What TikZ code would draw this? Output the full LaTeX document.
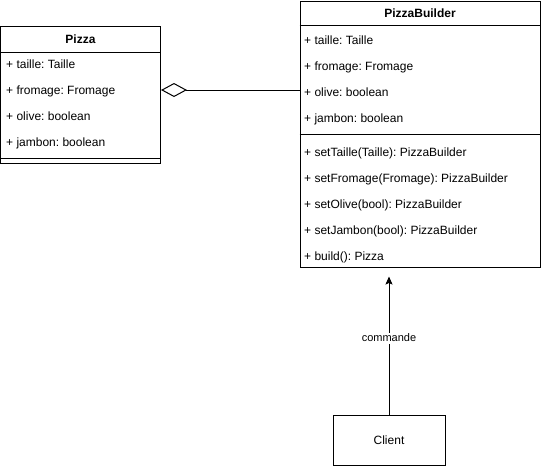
\documentclass[tikz,border=0pt]{standalone}
\usepackage{fontspec}
\setmainfont{Liberation Sans}
\usetikzlibrary{arrows.meta, positioning, calc}
\frenchspacing

\begin{document}
\begin{tikzpicture}[x=1pt, y=-1pt,
    font=\fontsize{12}{14}\selectfont,
    classbox/.style={rectangle, draw, line width=1pt, inner sep=0pt},
    classname/.style={font=\fontsize{12}{14}\selectfont\bfseries, anchor=base},
    row/.style={anchor=base west, inner sep=0pt},
    sep/.style={line width=1pt},
    arr/.style={-{Stealth[length=8pt, width=7pt, inset=1.5pt]}, line width=1pt, shorten >=9pt},
    agg/.style={{Diamond[open, length=26pt, width=14pt]}-, line width=1pt}
  ]
    \useasboundingbox (0,0) rectangle (541,466);

    % Pizza
    \node[classbox, minimum width=160pt, minimum height=137pt] (pizza) at (80.5,94.5) {};
    \node[classname] (pizzaname) at (80.5,43.5) {Pizza};
    \draw[sep] (pizza.west |- 0,52) -- (pizza.east |- 0,52);
    \draw[sep] (pizza.west |- 0,158) -- (pizza.east |- 0,158);
    \node[row] (p1) at (6,68.5) {+ taille: Taille};
    \node[row] (p2) at (6,94.5) {+ fromage: Fromage};
    \node[row] (p3) at (6,120.5) {+ olive: boolean};
    \node[row] (p4) at (6,146.5) {+ jambon: boolean};

    % PizzaBuilder
    \node[classbox, minimum width=240pt, minimum height=266pt] (builder) at (420,134) {};
    \node[classname] (buildername) at (420,17.5) {PizzaBuilder};
    \draw[sep] (builder.west |- 0,25) -- (builder.east |- 0,25);
    \draw[sep] (builder.west |- 0,134) -- (builder.east |- 0,134);
    \node[row] (b1) at (304,44.5) {+ taille: Taille};
    \node[row] (b2) at (304,70.5) {+ fromage: Fromage};
    \node[row] (b3) at (304,96.5) {+ olive: boolean};
    \node[row] (b4) at (304,122.5) {+ jambon: boolean};
    \node[row] (m1) at (304,156.5) {+ setTaille(Taille): PizzaBuilder};
    \node[row] (m2) at (304,182.5) {+ setFromage(Fromage): PizzaBuilder};
    \node[row] (m3) at (304,208.5) {+ setOlive(bool): PizzaBuilder};
    \node[row] (m4) at (304,234.5) {+ setJambon(bool): PizzaBuilder};
    \node[row] (m5) at (304,260.5) {+ build(): Pizza};

    % Client
    \node[classbox, minimum width=112pt, minimum height=50pt] (client) at (389,440) {Client};

    \draw[agg] (pizza.east |- 0,90) -- (builder.west |- 0,90);
    \draw[arr] (client.north) -- (client.north |- builder.south)
      node[pos=0.52, fill=white, inner sep=1.5pt, font=\fontsize{11}{13}\selectfont] {commande};
  \end{tikzpicture}
\end{document}
